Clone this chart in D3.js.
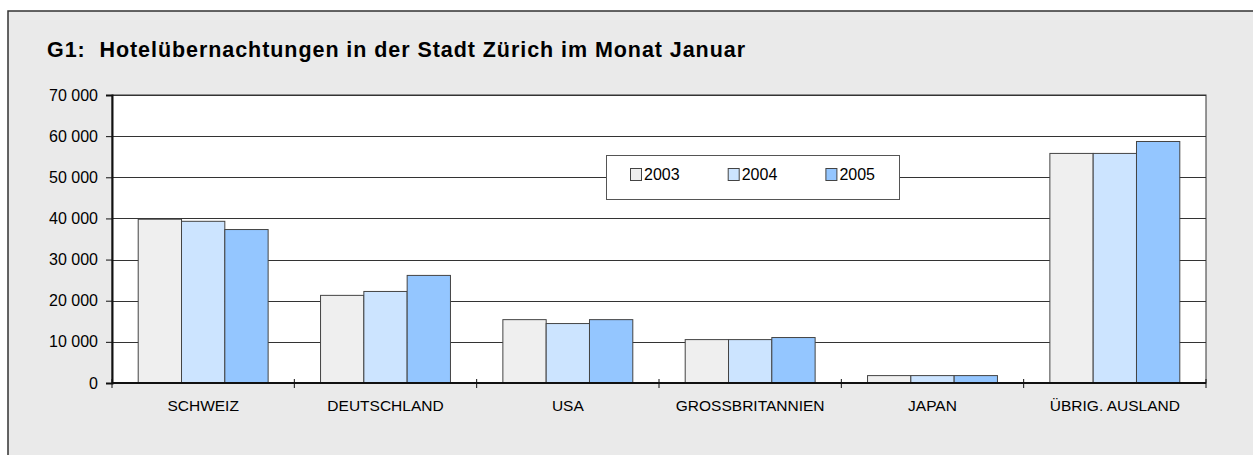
<!DOCTYPE html>
<html>
<head>
<meta charset="utf-8">
<script src="https://cdn.jsdelivr.net/npm/d3@7"></script>
<style>
  html, body { margin: 0; padding: 0; background: #ffffff; }
  svg { display: block; font-family: "Liberation Sans", Arial, sans-serif; }
</style>
</head>
<body>
<svg id="chart" width="1253" height="455"></svg>
<script>
const categories = ["SCHWEIZ", "DEUTSCHLAND", "USA", "GROSSBRITANNIEN", "JAPAN", "ÜBRIG. AUSLAND"];
const years = ["2003", "2004", "2005"];
const values2003 = [39800, 21300, 15400, 10550, 1800, 55800];
const values2004 = [39300, 22250, 14450, 10550, 1800, 55800];
const values2005 = [37300, 26150, 15400, 11050, 1800, 58700];
const yTicks = [0, 10000, 20000, 30000, 40000, 50000, 60000, 70000];
const colors = ["#efefef", "#cce4ff", "#94c6ff"];
const titleText = "G1:  Hotelübernachtungen in der Stadt Zürich im Monat Januar";

(function () {
const seriesValues = [values2003, values2004, values2005];
const svg = d3.select("#chart");

// chart area background
svg.append("rect")
  .attr("x", 8).attr("y", 11)
  .attr("width", 1300).attr("height", 500)
  .attr("fill", "#eaeaea")
  .attr("stroke", "#333").attr("stroke-width", 1.5);

svg.append("text")
  .attr("x", 47).attr("y", 57)
  .style("white-space", "pre")
  .attr("font-size", 21.5).attr("font-weight", "bold")
  .attr("textLength", 698).attr("lengthAdjust", "spacing")
  .attr("fill", "#000")
  .text(titleText);

const pLeft = 112, pRight = 1206, pTop = 95, pBottom = 383;

// plot area
svg.append("rect")
  .attr("x", pLeft).attr("y", pTop)
  .attr("width", pRight - pLeft).attr("height", pBottom - pTop)
  .attr("fill", "#fff")
  .attr("stroke", "#333").attr("stroke-width", 1);

const x0 = d3.scaleBand().domain(categories).range([pLeft, pRight]).paddingInner(0).paddingOuter(0);
const x1 = d3.scaleBand().domain(years).range([0, x0.bandwidth()]).paddingInner(0).paddingOuter(0.605);
const y = d3.scaleLinear().domain([0, 70000]).range([pBottom, pTop]);

// gridlines
svg.append("g").selectAll("line")
  .data(yTicks.filter(t => t > 0))
  .join("line")
  .attr("x1", pLeft).attr("x2", pRight)
  .attr("y1", d => Math.round(y(d)) + 0.5).attr("y2", d => Math.round(y(d)) + 0.5)
  .attr("stroke", "#333").attr("stroke-width", 1);

// legend (drawn over gridlines)
const legend = svg.append("g");
legend.append("rect")
  .attr("x", 606.5).attr("y", 155.5).attr("width", 293).attr("height", 44)
  .attr("fill", "#fff").attr("stroke", "#555").attr("stroke-width", 1);
years.forEach((yr, i) => {
  const lx = 630 + i * 97.7;
  legend.append("rect")
    .attr("x", lx + 0.5).attr("y", 168.5).attr("width", 11).attr("height", 12)
    .attr("fill", colors[i]).attr("stroke", "#444").attr("stroke-width", 1);
  legend.append("text")
    .attr("x", lx + 14).attr("y", 179.5)
    .attr("font-size", 16).attr("fill", "#000")
    .text(yr);
});

// bars
const groups = svg.append("g").selectAll("g")
  .data(categories)
  .join("g")
  .attr("transform", d => `translate(${x0(d)},0)`);

groups.selectAll("rect")
  .data((d, ci) => years.map((yr, si) => ({ yr, si, v: seriesValues[si][ci] })))
  .join("rect")
  .attr("x", d => x1(d.yr))
  .attr("width", x1.bandwidth())
  .attr("y", d => y(d.v))
  .attr("height", d => pBottom - y(d.v))
  .attr("fill", d => colors[d.si])
  .attr("stroke", "#444").attr("stroke-width", 1);

// y axis
const yAxis = d3.axisLeft(y)
  .tickValues(yTicks)
  .tickSize(6)
  .tickPadding(8)
  .tickFormat(d => d3.format(",")(d).replace(/,/g, " "));
const yg = svg.append("g").attr("transform", `translate(${pLeft},0)`).call(yAxis);
yg.select(".domain").attr("stroke", "#111").attr("stroke-width", 2);
yg.selectAll(".tick line").attr("stroke", "#111");
yg.selectAll(".tick text").attr("font-size", 16).attr("fill", "#000")
  .attr("font-family", "Liberation Sans, Arial, sans-serif");

// x axis
const xg = svg.append("g");
xg.append("line")
  .attr("x1", pLeft).attr("x2", pRight)
  .attr("y1", pBottom).attr("y2", pBottom)
  .attr("stroke", "#111").attr("stroke-width", 2);
const boundaries = categories.map(c => x0(c)).concat([pRight]);
xg.selectAll("line.tk")
  .data(boundaries)
  .join("line").attr("class", "tk")
  .attr("x1", d => d).attr("x2", d => d)
  .attr("y1", pBottom - 4).attr("y2", pBottom + 5)
  .attr("stroke", "#111").attr("stroke-width", 1);
xg.selectAll("text")
  .data(categories)
  .join("text")
  .attr("x", d => x0(d) + x0.bandwidth() / 2)
  .attr("y", 411)
  .attr("text-anchor", "middle")
  .attr("font-size", 15.5).attr("fill", "#000")
  .text(d => d);
})();
</script>
</body>
</html>
